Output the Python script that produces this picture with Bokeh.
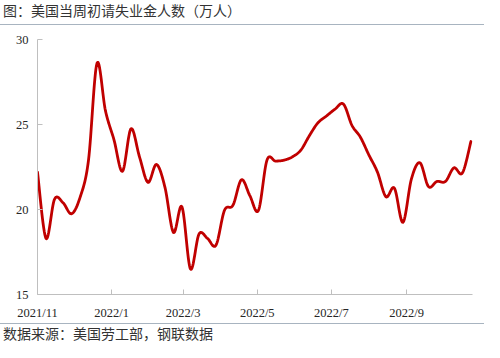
import numpy as np
import pandas as pd
from bokeh.plotting import figure
from bokeh.models import Range1d, FixedTicker, Div
from bokeh.layouts import column
from bokeh.embed import file_html
from bokeh.resources import INLINE

# ---- data ----
start_date = pd.Timestamp("2021-11-27")
dates = pd.date_range(start_date, periods=52, freq="7D")
claims = [22.2, 18.3, 20.6, 20.4, 19.75, 20.7, 22.9, 28.6, 25.8, 24.1,
          22.25, 24.75, 23.1, 21.6, 22.65, 21.3, 18.65, 20.15, 16.5, 18.55,
          18.3, 17.9, 19.95, 20.25, 21.75, 20.8, 19.95, 22.9, 22.85, 22.9,
          23.1, 23.5, 24.35, 25.1, 25.5, 25.9, 26.2, 24.95, 24.25, 23.2,
          22.2, 20.75, 21.25, 19.25, 21.8, 22.75, 21.35, 21.65, 21.65, 22.45,
          22.15, 24.0]
tick_dates = ["2021-11-27", "2022-01-27", "2022-03-27", "2022-05-27", "2022-07-27", "2022-09-27"]
tick_labels = ["2021/11", "2022/1", "2022/3", "2022/5", "2022/7", "2022/9"]
y_ticks = [15, 20, 25, 30]
title_text = "图：美国当周初请失业金人数（万人）"
source_text = "数据来源：美国劳工部，钢联数据"


def to_ms(ts):
    return pd.Timestamp(ts).value / 1e6


def smooth(xs, ys, n=16):
    P = np.column_stack([np.asarray(xs, float), np.asarray(ys, float)])
    P = np.vstack([P[0], P, P[-1]])
    t = np.linspace(0, 1, n, endpoint=False)
    out = []
    for i in range(1, len(P) - 2):
        p0, p1, p2, p3 = P[i - 1], P[i], P[i + 1], P[i + 2]
        c1 = p1 + (p2 - p0) / 6.0
        c2 = p2 - (p3 - p1) / 6.0
        seg = (((1 - t) ** 3)[:, None] * p1 + (3 * (1 - t) ** 2 * t)[:, None] * c1
               + (3 * (1 - t) * t ** 2)[:, None] * c2 + (t ** 3)[:, None] * p2)
        out.append(seg)
    out.append(P[-2][None, :])
    arr = np.vstack(out)
    return arr[:, 0], arr[:, 1]


W = 484
TITLE_H, FIG_H, FOOT_H = 25, 298, 19
L, R, T, B = 37, 12, 14, 29
sep_col = "#a8b4c0"
txt_col = "#333333"
cjk = "'Noto Sans CJK SC', sans-serif"

x_ms = [to_ms(d) for d in dates]
x0 = to_ms(start_date)
x1 = x0 + 358.3 * 86400000.0

p = figure(width=W, height=FIG_H, x_axis_type="datetime", output_backend="svg",
           toolbar_location=None, min_border_left=L, min_border_right=R,
           min_border_top=T, min_border_bottom=B,
           x_range=Range1d(x0, x1), y_range=Range1d(15, 30))
p.background_fill_color = "white"
p.border_fill_color = "white"
p.outline_line_color = None
p.xgrid.visible = False
p.ygrid.visible = False

sx, sy = smooth(x_ms, claims)
p.line(sx, sy, line_color="#c00000", line_width=2.8, line_join="round", line_cap="round")

axis_col = "#bfbfbf"
tick_ms = [to_ms(d) for d in tick_dates]
p.xaxis.ticker = FixedTicker(ticks=tick_ms)
p.xaxis.major_label_overrides = {t: lab for t, lab in zip(tick_ms, tick_labels)}
p.yaxis.ticker = FixedTicker(ticks=y_ticks)
for ax in (p.xaxis[0], p.yaxis[0]):
    ax.axis_line_color = axis_col
    ax.major_tick_line_color = axis_col
    ax.minor_tick_line_color = None
    ax.major_tick_out = 0
    ax.major_tick_in = 5
    ax.major_label_text_font = "Liberation Serif"
    ax.major_label_text_font_size = "12.5px"
    ax.major_label_text_color = "#262626"
p.yaxis.major_label_standoff = 9
p.xaxis.major_label_standoff = 11

title_div = Div(text=title_text, width=W, height=TITLE_H,
                styles={"font-family": cjk, "font-size": "14px", "color": txt_col,
                        "line-height": "16px", "padding-top": "2px", "padding-left": "3px",
                        "box-sizing": "border-box", "border-bottom": f"1px solid {sep_col}",
                        "margin": "0"})
foot_div = Div(text=source_text, width=W, height=FOOT_H,
               styles={"font-family": cjk, "font-size": "14px", "color": txt_col,
                       "line-height": "17px", "padding-top": "1px", "padding-left": "3px",
                       "box-sizing": "border-box", "border-top": f"1px solid {sep_col}",
                       "margin": "0"})

layout = column(title_div, p, foot_div, spacing=0)
open("out.html", "w").write(file_html(layout, INLINE))
